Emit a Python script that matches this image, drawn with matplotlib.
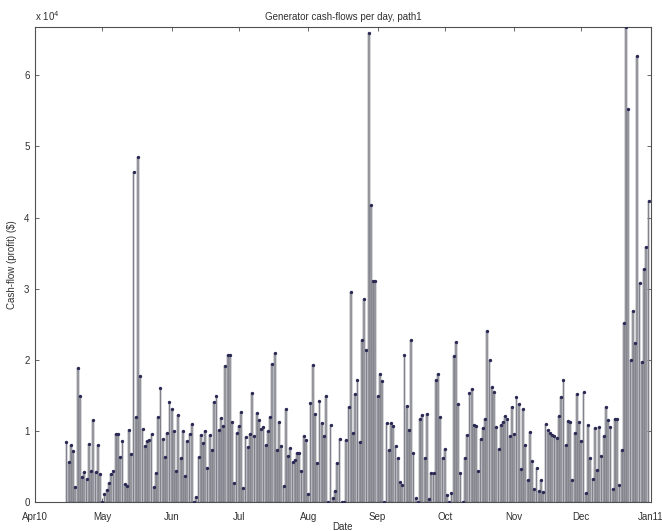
import matplotlib
matplotlib.use("Agg")
import matplotlib.pyplot as plt
import pandas as pd

# daily generator cash-flow, path1 (units of 1e4 $), 15 Apr 2010 .. 31 Dec 2010
first_day = "2010-04-15"
cash_flow = [
    0.84, 0.56, 0.80, 0.71, 0.21, 1.88, 1.49, 0.35, 0.42, 0.32, 0.81, 0.44, 1.15, 0.42, 0.80,
    0.39, 0.00, 0.11, 0.17, 0.27, 0.39, 0.43, 0.95, 0.95, 0.63, 0.86, 0.25, 0.22, 1.01, 0.67,
    4.64, 1.19, 4.85, 1.77, 1.03, 0.79, 0.85, 0.87, 0.95, 0.21, 0.40, 1.20, 1.60,
    0.89, 0.63, 0.97, 1.41, 1.30, 1.00, 0.44, 1.22, 0.61, 0.99, 0.36, 0.85, 0.96, 1.09, 0.00,
    0.07, 0.63, 0.94, 0.83, 1.00, 0.47, 0.94, 0.73, 1.41, 1.49, 1.01, 1.18, 1.06, 1.91, 2.07,
    2.06, 1.12, 0.26, 0.97, 1.07, 1.27, 0.20, 0.91, 0.77, 0.96, 1.53, 0.92, 1.25, 1.15,
    1.02, 1.05, 0.80, 1.00, 1.19, 1.94, 2.09, 0.73, 1.12, 0.78, 0.22, 1.31, 0.64, 0.76, 0.56,
    0.59, 0.68, 0.69, 0.43, 0.93, 0.87, 0.11, 1.39, 1.92, 1.24, 0.55, 1.42, 1.11, 0.93, 1.49,
    0.00, 1.08, 0.06, 0.15, 0.54, 0.89, 0.00, 0.00, 0.87, 1.33, 2.95, 0.97, 1.51, 1.72,
    0.84, 2.27, 2.85, 2.14, 6.59, 4.18, 3.10, 3.10, 1.49, 1.80, 1.70, 0.00, 1.11, 0.73, 1.11,
    1.06, 0.78, 0.62, 0.28, 0.24, 2.07, 1.35, 1.01, 2.27, 0.68, 0.05, 0.00, 1.17, 1.22, 0.62,
    1.23, 0.04, 0.40, 0.40, 1.72, 1.80, 1.19, 0.62, 0.74, 0.10, 0.00, 0.13, 2.05, 2.25,
    1.38, 0.41, 0.00, 0.61, 0.94, 1.53, 1.59, 1.08, 1.06, 0.44, 0.88, 1.04, 1.16, 2.40, 2.00,
    1.62, 1.55, 1.05, 0.74, 1.08, 1.12, 1.21, 1.17, 0.93, 1.34, 0.96, 1.47, 1.38, 0.46, 1.30,
    0.80, 0.31, 0.98, 0.58, 0.18, 0.48, 0.15, 0.30, 0.14, 1.09, 1.01, 0.97, 0.94,
    0.92, 0.90, 1.21, 1.48, 1.72, 0.80, 1.13, 1.12, 0.30, 0.97, 1.51, 1.12, 0.85, 1.55, 0.12,
    1.08, 0.62, 0.32, 1.04, 0.45, 1.05, 0.65, 0.92, 1.34, 1.15, 1.05, 0.18, 1.16, 1.16, 0.24,
    0.73, 2.52,
    6.68, 5.53, 2.00, 2.68, 2.23, 6.28, 3.08, 1.97, 3.27, 3.59, 4.23,
]

month_ticks = ["2010-04-01", "2010-05-01", "2010-06-01", "2010-07-01", "2010-08-01",
               "2010-09-01", "2010-10-01", "2010-11-01", "2010-12-01", "2011-01-01"]
month_labels = ["Apr10", "May", "Jun", "Jul", "Aug", "Sep", "Oct", "Nov", "Dec", "Jan11"]
y_ticks = [0, 1, 2, 3, 4, 5, 6]

COLOR_BAR = "#a8a8ac"
COLOR_EDGE = "#5a5a6e"
COLOR_DOT = "#2a2a55"
COLOR_AXIS = "#505050"
COLOR_TEXT = "#303030"

plt.rcParams["font.family"] = ["Liberation Sans", "DejaVu Sans"]

dates = pd.date_range(first_day, periods=len(cash_flow), freq="D")

fig = plt.figure(figsize=(6.62, 5.31), dpi=100, facecolor="white")
ax = fig.add_axes([0.053, 0.055, 0.930, 0.894])

ax.bar(dates, cash_flow, width=0.8, color=COLOR_BAR, edgecolor=COLOR_EDGE,
       linewidth=0.35, zorder=2)
ax.plot(dates, cash_flow, ".", color=COLOR_DOT, markersize=2.8, zorder=3)

ax.set_xlim(pd.Timestamp(month_ticks[0]), pd.Timestamp(month_ticks[-1]))
ax.set_ylim(0, max(cash_flow))
ax.set_xticks(pd.to_datetime(month_ticks))
ax.set_xticklabels(month_labels)
ax.set_yticks(y_ticks)
ax.set_yticklabels([str(t) for t in y_ticks])

ax.tick_params(direction="in", length=3, width=0.6, colors=COLOR_AXIS,
               labelcolor=COLOR_TEXT, labelsize=7, top=True, right=True)
ax.tick_params(axis="x", pad=7)
ax.tick_params(axis="y", pad=4)
for side in ax.spines.values():
    side.set_color(COLOR_AXIS)
    side.set_linewidth(0.8)

ax.set_title("Generator cash-flows per day, path1", fontsize=7, color=COLOR_TEXT, pad=5)
ax.set_xlabel("Date", fontsize=7, color=COLOR_TEXT, labelpad=0)
ax.set_ylabel("Cash-flow (profit) ($)", fontsize=7, color=COLOR_TEXT, labelpad=5)
ax.text(0.0, 1.008, r"x 10$^4$", transform=ax.transAxes, fontsize=7,
        color=COLOR_TEXT, ha="left", va="bottom")

fig.savefig("out.png", dpi=100, facecolor="white")
